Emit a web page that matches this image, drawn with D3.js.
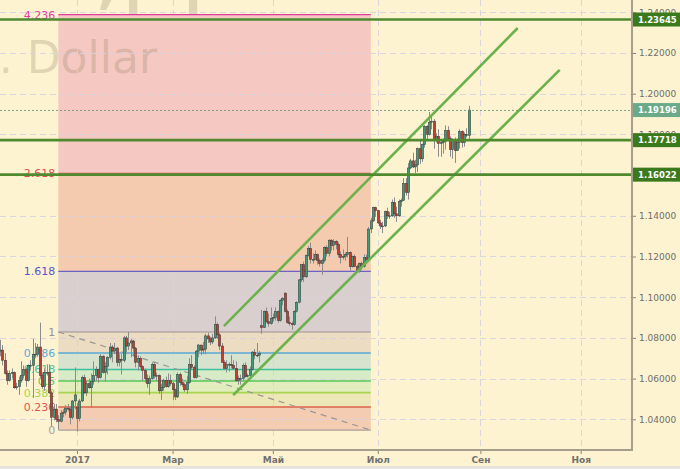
<!DOCTYPE html>
<html>
<head>
<meta charset="utf-8">
<script src="https://cdn.jsdelivr.net/npm/d3@7"></script>
<style>
body { margin: 0; background: #fdf3d1; }
svg { display: block; }
</style>
</head>
<body>
<div id="chart"></div>
<script>
// EURUSD daily, Nov 2016 - Aug 2017, Fibonacci levels + channel

// daily bars [open, high, low, close], weekdays only, first bar 15 Nov 2016
var ohlc = [
  [1.0735,1.0790,1.0710,1.0740],[1.0740,1.0765,1.0665,1.0690],[1.0690,1.0725,1.0620,1.0625],[1.0625,1.0640,1.0570,1.0590],
  [1.0590,1.0640,1.0585,1.0625],[1.0625,1.0650,1.0600,1.0630],[1.0630,1.0635,1.0550,1.0555],[1.0555,1.0580,1.0545,1.0560],
  [1.0560,1.0610,1.0520,1.0590],[1.0590,1.0685,1.0580,1.0615],[1.0615,1.0665,1.0600,1.0645],[1.0645,1.0655,1.0560,1.0590],
  [1.0590,1.0670,1.0585,1.0665],[1.0665,1.0690,1.0640,1.0665],[1.0665,1.0795,1.0505,1.0720],[1.0720,1.0775,1.0700,1.0720],
  [1.0720,1.0770,1.0710,1.0755],[1.0755,1.0875,1.0600,1.0615],[1.0615,1.0630,1.0550,1.0560],[1.0560,1.0650,1.0540,1.0630],
  [1.0630,1.0670,1.0615,1.0630],[1.0630,1.0670,1.0525,1.0530],[1.0530,1.0540,1.0365,1.0410],[1.0410,1.0475,1.0395,1.0450],
  [1.0450,1.0475,1.0385,1.0400],[1.0400,1.0420,1.0350,1.0390],[1.0390,1.0445,1.0385,1.0430],[1.0430,1.0450,1.0410,1.0435],
  [1.0435,1.0470,1.0420,1.0455],[1.0455,1.0475,1.0440,1.0450],[1.0450,1.0460,1.0375,1.0410],[1.0410,1.0495,1.0400,1.0490],
  [1.0490,1.0655,1.0450,1.0520],
  // 2017
  [1.0460,1.0480,1.0340,1.0405],[1.0405,1.0500,1.0390,1.0490],[1.0490,1.0615,1.0485,1.0605],[1.0605,1.0620,1.0525,1.0530],
  [1.0530,1.0590,1.0515,1.0575],[1.0575,1.0600,1.0550,1.0555],[1.0555,1.0625,1.0455,1.0585],[1.0585,1.0685,1.0570,1.0615],
  [1.0615,1.0660,1.0590,1.0645],[1.0645,1.0645,1.0580,1.0605],[1.0605,1.0720,1.0600,1.0710],[1.0710,1.0715,1.0625,1.0630],
  [1.0630,1.0680,1.0585,1.0660],[1.0660,1.0710,1.0620,1.0705],[1.0705,1.0775,1.0695,1.0755],[1.0755,1.0765,1.0680,1.0735],
  [1.0735,1.0775,1.0720,1.0750],[1.0750,1.0755,1.0660,1.0680],[1.0680,1.0720,1.0660,1.0695],[1.0695,1.0720,1.0620,1.0690],
  [1.0690,1.0810,1.0680,1.0800],
  [1.0800,1.0810,1.0730,1.0760],[1.0760,1.0829,1.0740,1.0775],[1.0775,1.0795,1.0705,1.0785],[1.0785,1.0790,1.0710,1.0750],
  [1.0750,1.0755,1.0655,1.0680],[1.0680,1.0715,1.0640,1.0700],[1.0700,1.0710,1.0650,1.0660],[1.0660,1.0665,1.0590,1.0640],
  [1.0640,1.0650,1.0580,1.0600],[1.0600,1.0620,1.0555,1.0575],[1.0575,1.0615,1.0520,1.0600],[1.0600,1.0680,1.0595,1.0670],
  [1.0670,1.0680,1.0600,1.0615],[1.0615,1.0630,1.0590,1.0615],[1.0615,1.0620,1.0525,1.0540],[1.0540,1.0575,1.0495,1.0555],
  [1.0555,1.0600,1.0540,1.0590],[1.0590,1.0610,1.0555,1.0560],[1.0560,1.0625,1.0555,1.0590],[1.0590,1.0620,1.0565,1.0575],
  [1.0575,1.0585,1.0495,1.0545],[1.0545,1.0550,1.0495,1.0510],[1.0510,1.0630,1.0505,1.0620],[1.0620,1.0630,1.0565,1.0580],
  [1.0580,1.0600,1.0560,1.0570],[1.0570,1.0580,1.0535,1.0545],[1.0545,1.0615,1.0525,1.0580],[1.0580,1.0700,1.0575,1.0670],
  [1.0670,1.0715,1.0645,1.0655],[1.0655,1.0665,1.0600,1.0605],[1.0605,1.0740,1.0600,1.0735],[1.0735,1.0770,1.0705,1.0765],
  [1.0765,1.0765,1.0715,1.0740],[1.0740,1.0780,1.0720,1.0745],[1.0745,1.0820,1.0720,1.0810],[1.0810,1.0825,1.0775,1.0795],
  [1.0795,1.0805,1.0765,1.0780],[1.0780,1.0820,1.0770,1.0800],[1.0800,1.0906,1.0795,1.0865],[1.0865,1.0875,1.0795,1.0815],
  [1.0815,1.0825,1.0740,1.0760],[1.0760,1.0775,1.0680,1.0680],[1.0680,1.0690,1.0650,1.0650],
  [1.0650,1.0690,1.0630,1.0670],[1.0670,1.0680,1.0635,1.0670],[1.0670,1.0715,1.0650,1.0665],[1.0665,1.0690,1.0645,1.0650],
  [1.0650,1.0685,1.0585,1.0590],[1.0590,1.0615,1.0570,1.0600],[1.0600,1.0620,1.0570,1.0600],[1.0600,1.0675,1.0590,1.0665],
  [1.0665,1.0680,1.0605,1.0610],[1.0610,1.0625,1.0605,1.0615],[1.0615,1.0660,1.0605,1.0645],[1.0645,1.0735,1.0640,1.0730],
  [1.0730,1.0745,1.0695,1.0715],[1.0715,1.0775,1.0705,1.0715],[1.0715,1.0735,1.0680,1.0725],[1.0860,1.0937,1.0820,1.0850],
  [1.0850,1.0935,1.0850,1.0930],[1.0930,1.0950,1.0875,1.0880],[1.0880,1.0920,1.0855,1.0870],[1.0870,1.0950,1.0865,1.0895],
  [1.0895,1.0920,1.0880,1.0900],[1.0900,1.0950,1.0885,1.0930],[1.0930,1.0935,1.0875,1.0885],[1.0885,1.0990,1.0880,1.0985],
  [1.0985,1.1000,1.0960,1.0995],[1.1020,1.1025,1.0925,1.0930],[1.0930,1.0940,1.0870,1.0875],[1.0875,1.0905,1.0860,1.0870],
  [1.0870,1.0880,1.0840,1.0865],[1.0865,1.0935,1.0860,1.0930],[1.0930,1.0980,1.0925,1.0975],[1.0975,1.1090,1.0970,1.1085],
  [1.1085,1.1160,1.1075,1.1160],[1.1160,1.1175,1.1075,1.1100],[1.1100,1.1210,1.1095,1.1205],[1.1205,1.1250,1.1200,1.1240],
  [1.1240,1.1268,1.1165,1.1185],[1.1185,1.1215,1.1165,1.1185],[1.1185,1.1230,1.1185,1.1210],[1.1210,1.1215,1.1160,1.1180],
  [1.1180,1.1190,1.1150,1.1165],[1.1165,1.1190,1.1110,1.1180],[1.1180,1.1250,1.1170,1.1245],
  [1.1245,1.1255,1.1200,1.1215],[1.1215,1.1285,1.1200,1.1280],[1.1280,1.1285,1.1230,1.1255],[1.1255,1.1285,1.1230,1.1275],
  [1.1275,1.1280,1.1235,1.1260],[1.1260,1.1270,1.1195,1.1210],[1.1210,1.1225,1.1165,1.1195],[1.1195,1.1235,1.1185,1.1200],
  [1.1200,1.1220,1.1180,1.1210],[1.1210,1.1296,1.1195,1.1220],[1.1220,1.1225,1.1130,1.1150],[1.1150,1.1205,1.1145,1.1200],
  [1.1200,1.1210,1.1150,1.1150],[1.1150,1.1160,1.1120,1.1130],[1.1130,1.1170,1.1120,1.1165],[1.1165,1.1175,1.1135,1.1150],
  [1.1150,1.1210,1.1145,1.1195],[1.1195,1.1210,1.1170,1.1185],[1.1185,1.1345,1.1180,1.1335],[1.1335,1.1390,1.1315,1.1375],
  [1.1375,1.1445,1.1370,1.1440],[1.1440,1.1445,1.1395,1.1425],
  [1.1425,1.1430,1.1360,1.1365],[1.1365,1.1380,1.1335,1.1350],[1.1350,1.1370,1.1315,1.1350],[1.1350,1.1425,1.1345,1.1420],
  [1.1420,1.1440,1.1385,1.1400],[1.1400,1.1420,1.1385,1.1400],[1.1400,1.1480,1.1395,1.1465],[1.1465,1.1490,1.1390,1.1410],
  [1.1410,1.1445,1.1370,1.1400],[1.1400,1.1480,1.1395,1.1470],[1.1470,1.1485,1.1445,1.1475],[1.1475,1.1585,1.1475,1.1560],
  [1.1560,1.1585,1.1500,1.1515],[1.1515,1.1660,1.1480,1.1635],[1.1635,1.1680,1.1630,1.1670],[1.1670,1.1710,1.1635,1.1640],
  [1.1640,1.1675,1.1610,1.1650],[1.1650,1.1735,1.1615,1.1730],[1.1730,1.1775,1.1655,1.1680],[1.1680,1.1755,1.1665,1.1750],
  [1.1750,1.1845,1.1735,1.1840],
  [1.1840,1.1845,1.1770,1.1800],[1.1800,1.1910,1.1795,1.1860],[1.1860,1.1890,1.1825,1.1865],[1.1865,1.1875,1.1730,1.1770],
  [1.1770,1.1805,1.1760,1.1790],[1.1790,1.1825,1.1690,1.1755],[1.1755,1.1770,1.1690,1.1760],[1.1760,1.1780,1.1705,1.1765],
  [1.1765,1.1845,1.1725,1.1820],[1.1820,1.1840,1.1770,1.1780],[1.1780,1.1790,1.1690,1.1725],[1.1725,1.1780,1.1680,1.1770],
  [1.1770,1.1785,1.1660,1.1720],[1.1720,1.1780,1.1720,1.1760],[1.1760,1.1825,1.1730,1.1815],[1.1815,1.1820,1.1735,1.1760],
  [1.1760,1.1810,1.1740,1.1800],[1.1800,1.1830,1.1785,1.1795],[1.1795,1.1940,1.1775,1.19196]
];

// month ticks (bar index of the first bar of the month)
var tickIndex = [33, 74, 117, 162, 206, 249];
var tickLabels = ["2017", "Мар", "Май", "Июл", "Сен", "Ноя"];

var priceTicks = [1.04, 1.06, 1.08, 1.10, 1.12, 1.14, 1.16, 1.18, 1.20, 1.22, 1.24];

// fibonacci grid: 0 = low of 3 Jan, 1 = high of 2 Feb
var fibLow = 1.0347, fibHigh = 1.0829;
var fibStart = 25, fibEnd = 159;
var fibLevels = [0, 0.236, 0.382, 0.5, 0.618, 0.786, 1, 1.618, 2.618, 4.236];
var fibLabels = ["0", "0.236", "0.382", "0.5", "0.618", "0.786", "1", "1.618", "2.618", "4.236"];
var fibLineColors = ["#a89f9c", "#dd6248", "#a9d651", "#55c955", "#3fbf9f", "#5aa8d6", "#9a9096", "#6a62c8", "#df4d48", "#e03c9c"];
var fibTextColors = ["#a8a0a0", "#e2554f", "#a6d64e", "#55c955", "#44c6a4", "#5ea9d8", "#9a9298", "#5a54cc", "#e24f4f", "#e23fa0"];
var fibFills = ["#f4ccb2", "#ede6b6", "#e1edbc", "#d6ebc6", "#d7e3cf", "#ecdcc1", "#dacfcf", "#f5cbb0", "#f5c9c1"];

// trend channel [bar index, price]
var channelUpper = [[96, 1.0858], [222, 1.2323]];
var channelLower = [[100, 1.0519], [240, 1.2117]];

// horizontal levels
var levelPrices = [1.23645, 1.17718, 1.16022];
var lastPrice = 1.19196;

var svgWidth = 680;
var svgHeight = 469;
var plotRight = 632;
var plotBottom = 450;

var svg = d3.select("#chart")
  .append("svg")
  .attr("width", svgWidth)
  .attr("height", svgHeight);

svg.append("rect").attr("width", svgWidth).attr("height", svgHeight).attr("fill", "#fdf3d1");
svg.append("rect").attr("y", 466).attr("width", svgWidth).attr("height", 3).attr("fill", "#e6e4dc");

svg.append("clipPath").attr("id", "plot")
  .append("rect").attr("width", plotRight).attr("height", plotBottom);

var x = d3.scaleLinear().domain([0, 271]).range([0, plotRight]);
var y = d3.scaleLinear().domain([1.04, 1.24]).range([419.3, 12.3]);

var fibPrice = function(l) { return fibLow + l * (fibHigh - fibLow); };

var plot = svg.append("g").attr("clip-path", "url(#plot)");

// fibonacci fills
plot.append("g")
  .selectAll("rect")
  .data(fibFills)
  .enter()
  .append("rect")
  .attr("x", x(fibStart))
  .attr("width", x(fibEnd) - x(fibStart))
  .attr("y", function(d, i) { return y(fibPrice(fibLevels[i + 1])); })
  .attr("height", function(d, i) { return y(fibPrice(fibLevels[i])) - y(fibPrice(fibLevels[i + 1])); })
  .attr("fill", function(d) { return d; });

// watermark, over the fills
var mark = plot.append("g")
  .attr("font-family", "DejaVu Sans")
  .attr("fill", "#8a7a60")
  .attr("fill-opacity", 0.26);
mark.append("text")
  .attr("x", 124).attr("y", -2)
  .attr("text-anchor", "end")
  .attr("font-size", "100px")
  .text("EURUSD, ");
mark.append("text")
  .attr("x", 124).attr("y", -2)
  .attr("font-size", "100px")
  .text("Дневной");
mark.append("text")
  .attr("x", 157).attr("y", 73)
  .attr("text-anchor", "end")
  .attr("font-size", "44px")
  .text("Euro vs U.S. Dollar");

// grid
var grid = plot.append("g")
  .attr("stroke", "#d8d2e2")
  .attr("stroke-width", 1)
  .attr("stroke-dasharray", "6,4")
  .attr("opacity", 0.9);
grid.selectAll(".h")
  .data(priceTicks)
  .enter()
  .append("line")
  .attr("x1", 0).attr("x2", plotRight)
  .attr("y1", function(d) { return Math.round(y(d)) + 0.5; })
  .attr("y2", function(d) { return Math.round(y(d)) + 0.5; });
grid.selectAll(".v")
  .data(tickIndex)
  .enter()
  .append("line")
  .attr("y1", 0).attr("y2", plotBottom)
  .attr("x1", function(d) { return Math.round(x(d)) + 0.5; })
  .attr("x2", function(d) { return Math.round(x(d)) + 0.5; });

// fibonacci lines
plot.append("g")
  .selectAll("line")
  .data(fibLevels)
  .enter()
  .append("line")
  .attr("x1", x(fibStart))
  .attr("x2", x(fibEnd))
  .attr("y1", function(d) { return y(fibPrice(d)); })
  .attr("y2", function(d) { return y(fibPrice(d)); })
  .attr("stroke", function(d, i) { return fibLineColors[i]; })
  .attr("stroke-width", function(d, i) { return (i >= 1 && i <= 5) ? 1.6 : 1.1; });

plot.append("line")
  .attr("x1", x(fibStart)).attr("y1", y(fibPrice(1)))
  .attr("x2", x(fibEnd)).attr("y2", y(fibPrice(0)))
  .attr("stroke", "#9c9696")
  .attr("stroke-width", 1.2)
  .attr("stroke-dasharray", "6,5");

plot.append("g")
  .selectAll("text")
  .data(fibLevels)
  .enter()
  .append("text")
  .attr("x", x(fibStart) - 3)
  .attr("y", function(d) { return y(fibPrice(d)); })
  .attr("dy", "0.36em")
  .attr("text-anchor", "end")
  .attr("font-family", "DejaVu Sans")
  .attr("font-size", "11px")
  .attr("fill", function(d, i) { return fibTextColors[i]; })
  .text(function(d, i) { return fibLabels[i]; });

// candles
var candles = plot.append("g")
  .selectAll("g")
  .data(ohlc)
  .enter()
  .append("g");

candles.append("line")
  .attr("x1", function(d, i) { return Math.round(x(i)) + 0.5; })
  .attr("x2", function(d, i) { return Math.round(x(i)) + 0.5; })
  .attr("y1", function(d) { return y(d[1]); })
  .attr("y2", function(d) { return y(d[2]); })
  .attr("stroke", "#8c8c8c")
  .attr("stroke-width", 1);

candles.append("rect")
  .attr("x", function(d, i) { return Math.round(x(i)) - 0.7; })
  .attr("width", 2.4)
  .attr("y", function(d) { return y(Math.max(d[0], d[3])); })
  .attr("height", function(d) { return Math.max(0.8, Math.abs(y(d[0]) - y(d[3]))); })
  .attr("fill", function(d) { return d[3] >= d[0] ? "#3c9c7c" : "#c23c30"; })
  .attr("stroke", "#3a3a3a")
  .attr("stroke-width", 0.5);

// channel
var line = d3.line()
  .x(function(d) { return x(d[0]); })
  .y(function(d) { return y(d[1]); });

plot.selectAll(".channel")
  .data([channelUpper, channelLower])
  .enter()
  .append("path")
  .attr("d", line)
  .attr("fill", "none")
  .attr("stroke", "#6cb24c")
  .attr("stroke-width", 2.6);

// horizontal levels
plot.append("g")
  .selectAll("line")
  .data(levelPrices)
  .enter()
  .append("line")
  .attr("x1", 0).attr("x2", plotRight)
  .attr("y1", function(d) { return y(d); })
  .attr("y2", function(d) { return y(d); })
  .attr("stroke", "#4f8a2f")
  .attr("stroke-width", 2.6);

plot.append("line")
  .attr("x1", 0).attr("x2", plotRight)
  .attr("y1", Math.round(y(lastPrice)) + 0.5)
  .attr("y2", Math.round(y(lastPrice)) + 0.5)
  .attr("stroke", "#5f8f6f")
  .attr("stroke-width", 0.8)
  .attr("stroke-dasharray", "2,2");

// axes
var rightAxis = d3.axisRight(y)
  .tickValues(priceTicks)
  .tickSize(4)
  .tickFormat(d3.format(".5f"));

var bottomAxis = d3.axisBottom(x)
  .tickValues(tickIndex)
  .tickSize(4)
  .tickFormat(function(d, i) { return tickLabels[i]; });

var ra = svg.append("g")
  .attr("transform", "translate(" + plotRight + ",0)")
  .call(rightAxis);

var ba = svg.append("g")
  .attr("transform", "translate(0," + plotBottom + ")")
  .call(bottomAxis);

[ra, ba].forEach(function(a) {
  a.select(".domain").remove();
  a.selectAll("line").attr("stroke", "#8a8478");
  a.selectAll("text")
    .attr("font-family", "DejaVu Sans")
    .attr("font-size", "9px")
    .attr("fill", "#6e6e6e");
});
ra.selectAll("text").attr("x", 7);
ba.selectAll("text").attr("y", 7).attr("font-weight", "bold").attr("fill", "#707070");

svg.append("path")
  .attr("d", "M" + plotRight + ",0V" + plotBottom + "H0")
  .attr("fill", "none")
  .attr("stroke", "#a59e8c")
  .attr("stroke-width", 2);

// price tags
var tags = levelPrices.concat([lastPrice]);
var tagColors = ["#3b7a1c", "#3b7a1c", "#3b7a1c", "#6aaa88"];

var tag = svg.append("g")
  .selectAll("g")
  .data(tags)
  .enter()
  .append("g")
  .attr("transform", function(d) { return "translate(" + (plotRight + 1) + "," + y(d) + ")"; });

tag.append("rect")
  .attr("y", -7)
  .attr("width", svgWidth - plotRight)
  .attr("height", 14)
  .attr("fill", function(d, i) { return tagColors[i]; });

tag.append("text")
  .attr("x", 5)
  .attr("dy", "0.36em")
  .attr("font-family", "DejaVu Sans")
  .attr("font-size", "8.5px")
  .attr("font-weight", "bold")
  .attr("fill", "#ffffff")
  .text(function(d) { return d3.format(".5f")(d); });
</script>
</body>
</html>
